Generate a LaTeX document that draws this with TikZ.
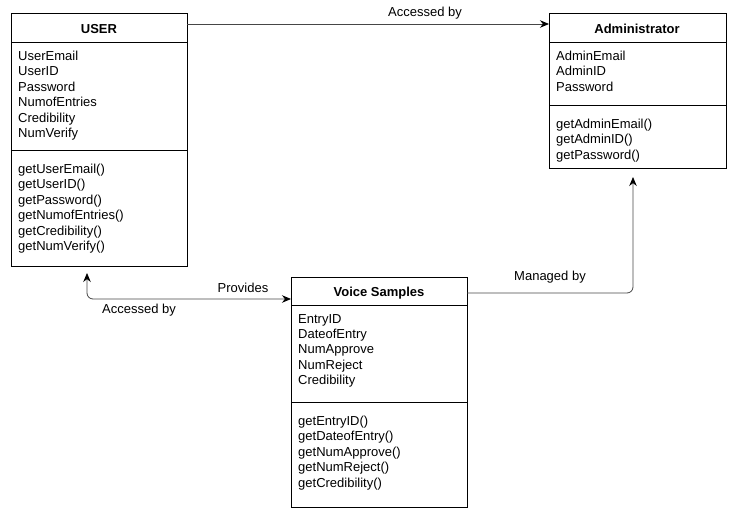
\documentclass[tikz,border=0pt]{standalone}
\usepackage{fontspec}
\setmainfont{Liberation Sans}
\usetikzlibrary{arrows.meta}
\definecolor{lncol}{RGB}{70,70,70}
\tikzset{
  classbox/.style={draw=black, line width=0.9pt, fill=white, anchor=north west, inner sep=0pt},
  divider/.style={draw=black, line width=0.9pt},
  title/.style={font=\fontsize{13}{15}\selectfont\bfseries, inner sep=0pt},
  members/.style={font=\fontsize{13}{15.35}\selectfont, align=left, anchor=north west, inner sep=0pt},
  conn/.style={draw=lncol, line width=0.8pt, rounded corners=6pt},
  tip/.style={-{Stealth[length=9pt,width=7.5pt,color=black]}},
  bitip/.style={{Stealth[length=9pt,width=7.5pt,color=black]}-{Stealth[length=9pt,width=7.5pt,color=black]}},
  lbl/.style={font=\fontsize{13}{15}\selectfont, inner sep=0pt}
}
\begin{document}
\begin{tikzpicture}[x=1pt,y=-1pt]
\useasboundingbox (0,0) rectangle (740,522);
% USER
\node[classbox, minimum width=176pt, minimum height=253pt] (user) at (11,13) {};
\draw[divider] (11,42) -- (187,42);
\draw[divider] (11,150) -- (187,150);
\node[title] (usert) at (99,29) {USER};
\node[members] (usera) at (18,51) {UserEmail\\UserID\\Password\\NumofEntries\\Credibility\\NumVerify};
\node[members] (userm) at (18,164) {getUserEmail()\\getUserID()\\getPassword()\\getNumofEntries()\\getCredibility()\\getNumVerify()};
% Administrator
\node[classbox, minimum width=177pt, minimum height=155pt] (admin) at (549,13) {};
\draw[divider] (549,42) -- (726,42);
\draw[divider] (549,105) -- (726,105);
\node[title] (admint) at (637,29) {Administrator};
\node[members] (admina) at (556,51) {AdminEmail\\AdminID\\Password};
\node[members] (adminm) at (556,119) {getAdminEmail()\\getAdminID()\\getPassword()};
% Voice Samples
\node[classbox, minimum width=176pt, minimum height=230pt] (vs) at (291,277) {};
\draw[divider] (291,305) -- (467,305);
\draw[divider] (291,402) -- (467,402);
\node[title] (vst) at (379,293) {Voice Samples};
\node[members] (vsa) at (298,314) {EntryID\\DateofEntry\\NumApprove\\NumReject\\Credibility};
\node[members] (vsm) at (298,416) {getEntryID()\\getDateofEntry()\\getNumApprove()\\getNumReject()\\getCredibility()};
% connectors
\coordinate (c1s) at (187,24);
\coordinate (c1e) at (549,24);
\draw[conn, tip] (c1s) -- (c1e);
\node[lbl] (l1) at (425,13) {Accessed by};
\coordinate (c2s) at (87,273);
\coordinate (c2e) at (291,299);
\draw[conn, bitip] (c2s) |- (c2e);
\node[lbl] (l2) at (243,288) {Provides};
\node[lbl] (l3) at (139,310) {Accessed by};
\coordinate (c3s) at (467,293);
\coordinate (c3e) at (633,177);
\draw[conn, tip] (c3s) -| (c3e);
\node[lbl] (l4) at (550,277) {Managed by};
\end{tikzpicture}
\end{document}
